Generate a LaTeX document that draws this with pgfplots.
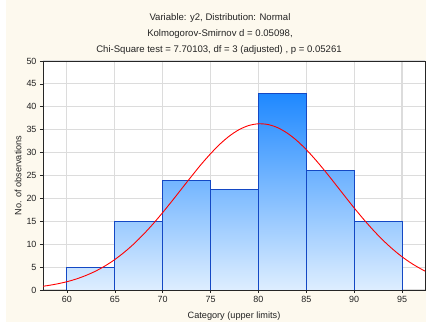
\documentclass[border=0pt]{standalone}
\usepackage{pgfplots}
\pgfplotsset{compat=1.18}
\usepackage{fontspec}
\setmainfont{Liberation Sans}
\pgfdeclarelayer{background}
\pgfsetlayers{background,main}
\definecolor{cream}{RGB}{253,249,238}
\definecolor{barlo}{RGB}{222,238,255}
\definecolor{barhi}{RGB}{30,136,255}
\definecolor{baredge}{RGB}{20,72,196}
\definecolor{gridc}{RGB}{220,220,220}
\definecolor{txt}{RGB}{35,35,35}
\begin{document}
\begin{tikzpicture}
\begin{axis}[name=ax,
  width=382bp, height=229bp, scale only axis,
  xmin=57.5, xmax=97.4, ymin=0, ymax=50,
  xtick={60,65,...,95}, ytick={0,5,...,50},
  axis background/.style={fill=white},
  grid=major, major grid style={gridc, line width=1.1bp},
  axis line style={black!85, line width=0.8bp},
  tick align=outside, tick style={black!85, line width=0.6bp},
  major tick length=3bp,
  xtick pos=bottom, ytick pos=left,
  ticklabel style={font=\fontsize{9}{11}\selectfont, text=txt},
  /pgf/number format/assume math mode=true,
  ylabel={No. of observations},
  label style={font=\fontsize{9.2}{11}\selectfont, text=txt},
  ylabel style={at={(axis description cs:0,0.5)}, anchor=center, yshift=25bp},
  clip=true,
]
\coordinate (SW) at (rel axis cs:0,0);
\addplot[ybar interval, draw=baredge, line width=0.9bp, bottom color=barlo, top color=barhi!12!barlo] coordinates {(60,5) (65,5)};
\addplot[ybar interval, draw=baredge, line width=0.9bp, bottom color=barlo, top color=barhi!35!barlo] coordinates {(65,15) (70,15)};
\addplot[ybar interval, draw=baredge, line width=0.9bp, bottom color=barlo, top color=barhi!56!barlo] coordinates {(70,24) (75,24)};
\addplot[ybar interval, draw=baredge, line width=0.9bp, bottom color=barlo, top color=barhi!51!barlo] coordinates {(75,22) (80,22)};
\addplot[ybar interval, draw=baredge, line width=0.9bp, bottom color=barlo, top color=barhi] coordinates {(80,43) (85,43)};
\addplot[ybar interval, draw=baredge, line width=0.9bp, bottom color=barlo, top color=barhi!60!barlo] coordinates {(85,26) (90,26)};
\addplot[ybar interval, draw=baredge, line width=0.9bp, bottom color=barlo, top color=barhi!35!barlo] coordinates {(90,15) (95,15)};
\addplot[red, line width=0.9bp, smooth, mark=none] coordinates {
(57.5,0.82) (58,0.97) (59,1.34) (60,1.81) (61,2.42) (62,3.19) (63,4.13) (64,5.28)
(65,6.65) (66,8.26) (67,10.09) (68,12.17) (69,14.44) (70,16.91) (71,19.49) (72,22.15)
(73,24.80) (74,27.38) (75,29.75) (76,31.89) (77,33.67) (78,35.03) (79,35.92) (80,36.29)
(81,36.13) (82,35.45) (83,34.27) (84,32.65) (85,30.65) (86,28.35) (87,25.85) (88,23.22)
(89,20.55) (90,17.92) (91,15.41) (92,13.05) (93,10.89) (94,8.96) (95,7.26) (96,5.80)
(97,4.57) (97.5,4.03)};
\end{axis}
\begin{scope}[x=1bp, y=1bp, shift={(SW)}, shift={(-43,-32)}]
\begin{pgfonlayer}{background}
\fill[white] (0,0) rectangle (428,322);
\fill[cream] (6,0) rectangle (426,322);
\end{pgfonlayer}
\node[font=\fontsize{9.6}{11}\selectfont, text=txt] at (220,304) {Variable: y2, Distribution: Normal};
\node[font=\fontsize{9.6}{11}\selectfont, text=txt] at (220,288) {Kolmogorov-Smirnov d = 0.05098,};
\node[font=\fontsize{9.6}{11}\selectfont, text=txt] at (219,272) {Chi-Square test = 7.70103, df = 3 (adjusted) , p = 0.05261};
\node[font=\fontsize{9.2}{11}\selectfont, text=txt] at (234,6) {Category (upper limits)};
\end{scope}
\end{tikzpicture}
\end{document}
